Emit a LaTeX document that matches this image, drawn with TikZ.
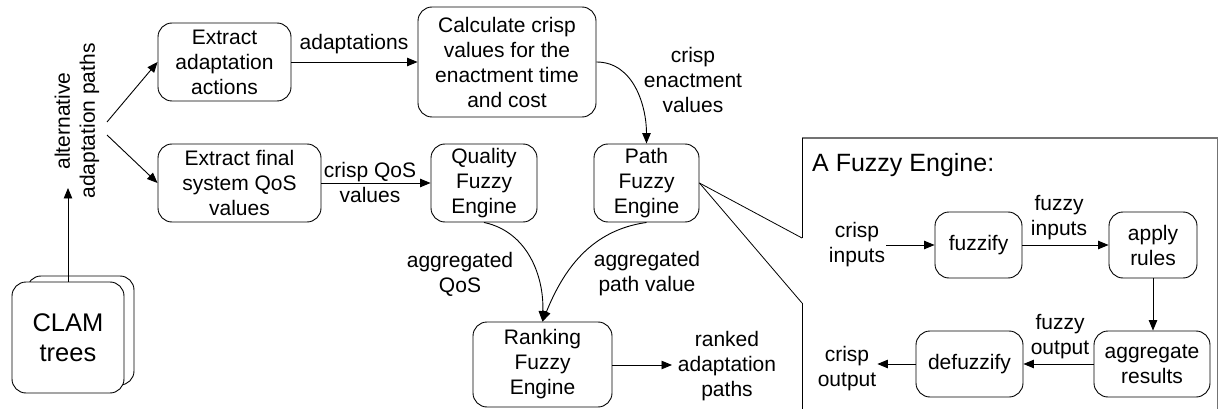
\documentclass[tikz,border=0pt]{standalone}
\usepackage{fontspec}
\setmainfont{Liberation Sans}
\usetikzlibrary{arrows.meta}
\begin{document}
\begin{tikzpicture}[x=1pt,y=-1pt,
  every node/.style={font=\fontsize{21}{25}\selectfont, align=center, inner sep=1pt},
  box/.style={draw, line width=0.9pt, rounded corners=14pt, inner sep=0pt},
  flow/.style={line width=0.9pt, -{Triangle[length=10.5pt,width=8.5pt]}},
  link/.style={line width=0.8pt},
  frame/.style={line width=1.4pt, draw=black!55}]
\useasboundingbox (0,0) rectangle (1219,409);

% main process boxes
\node[box, minimum width=133pt, minimum height=78pt] (ext1) at (224.5,62) {Extract\\adaptation\\actions};
\node[box, minimum width=163pt, minimum height=78pt] (ext2) at (239.5,183) {Extract final\\system QoS\\values};
\node[box, minimum width=178pt, minimum height=110pt] (calc) at (507,62) {Calculate crisp\\values for the\\enactment time\\and cost};
\node[box, minimum width=106pt, minimum height=78pt] (qual) at (484,183) {Quality\\Fuzzy\\Engine};
\node[box, minimum width=105pt, minimum height=78pt] (path) at (646.5,183) {Path\\Fuzzy\\Engine};
\node[box, minimum width=139pt, minimum height=85pt] (rank) at (542.5,364.5) {Ranking\\Fuzzy\\Engine};

% stacked CLAM trees
\node[box, minimum width=107pt, minimum height=109pt] (clamback) at (80.5,330.5) {};
\node[box, fill=white, minimum width=112pt, minimum height=111pt,
      font=\fontsize{25.5}{30}\selectfont] (clam) at (68,337.5) {CLAM\\trees};

% free labels
\node[rotate=90] (alt) at (77,121) {alternative\\adaptation paths};
\node (lbladapt) at (354,44) {adaptations};
\node (lblqos) at (370,182) {crisp QoS\\values};
\node (lblenact) at (693,80) {crisp\\enactment\\values};
\node (lblagq) at (460,274) {aggregated\\QoS};
\node (lblagp) at (647,274) {aggregated\\path value};
\node (ranked) at (727,366) {ranked\\adaptation\\paths};

\coordinate (altend) at (68,188);
\coordinate (f1) at (107,122);
\coordinate (f2) at (107,135);
\coordinate (rankend) at (672,365);

% main connectors
\draw[flow] (clam.north -| altend) -- (altend);
\draw[flow] (f1) -- (ext1.west);
\draw[flow] (f2) -- (ext2.west);
\draw[flow] (ext1.east) -- (calc.west);
\draw[flow] (ext2.east) -- (qual.west);
\draw[flow] (calc.east) to[out=0,in=90] (path.north);
\draw[flow] (qual.south) to[out=-12,in=88] (rank.north);
\draw[flow] (path.south) to[out=188,in=68] (rank.north);
\draw[flow] (rank.east |- rankend) -- (rankend);

% callout frame of the fuzzy engine
\coordinate (z1) at (802,238);
\coordinate (z2) at (802,303);
\draw[link] (path.east) -- (z1);
\draw[link] (path.east) -- (z2);
\draw[frame] (802,138) -- (1217.5,138) -- (1217.5,412);
\draw[line width=0.9pt] (z1) -- (802,138);
\draw[line width=0.9pt] (z2) -- (802,412);
\node[anchor=west, font=\fontsize{25}{30}\selectfont, inner sep=0pt] (title) at (812,165) {A Fuzzy Engine:};

% fuzzy engine internals
\node[box, minimum width=87pt, minimum height=66pt] (fuzzify) at (978.5,245) {fuzzify};
\node[box, minimum width=88pt, minimum height=66pt] (apply) at (1153,245) {apply\\rules};
\node[box, minimum width=116pt, minimum height=66pt] (aggr) at (1152,364) {aggregate\\results};
\node[box, minimum width=107pt, minimum height=66pt] (defuzz) at (969.5,364) {defuzzify};

\node (cin) at (857,245) {crisp\\inputs};
\node (cout) at (847,369) {crisp\\output};
\node (lblfin) at (1059,218) {fuzzy\\inputs};
\node (lblfout) at (1060,337) {fuzzy\\output};

\draw[flow] (cin.east) -- (fuzzify.west);
\draw[flow] (fuzzify.east) -- (apply.west);
\draw[flow] (apply.south) -- (apply.south |- aggr.north);
\draw[flow] (aggr.west) -- (defuzz.east);
\draw[flow] (defuzz.west) -- (defuzz.west -| cout.east);
\end{tikzpicture}
\end{document}
